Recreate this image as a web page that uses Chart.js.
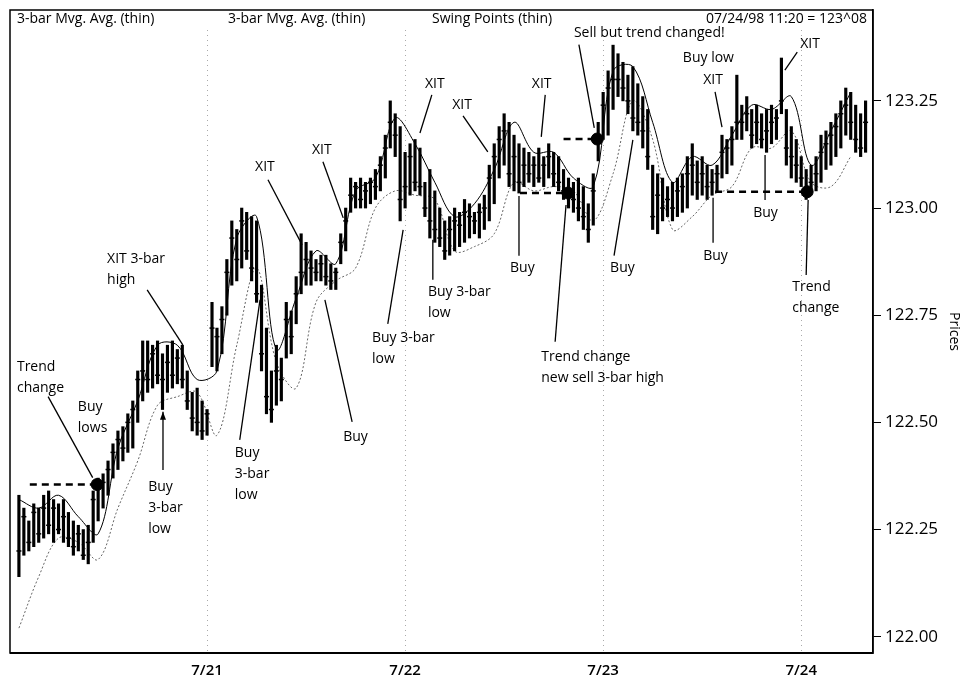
<!DOCTYPE html>
<html>
<head>
<meta charset="utf-8">
<script src="https://cdn.jsdelivr.net/npm/chart.js@4.4.1/dist/chart.umd.min.js"></script>
<style>
  html, body { margin: 0; padding: 0; background: #fff; }
</style>
</head>
<body>
<canvas id="grafico" width="972" height="686"></canvas>
<script>
// barre da 10 minuti: massimi, minimi e chiusure
var highs = [122.33,122.30,122.27,122.31,122.30,122.33,122.34,122.32,122.31,122.32,122.29,122.27,122.26,122.25,122.26,122.34,122.37,122.38,
  122.41,122.45,122.48,122.49,122.52,122.55,122.62,122.69,
  122.69,122.68,122.69,122.66,122.68,122.69,122.67,122.68,
  122.62,122.57,122.58,122.55,122.53,
  122.78,122.72,122.77,122.88,122.97,122.95,123.00,122.99,122.98,
  122.97,122.82,122.72,122.62,122.68,122.65,122.78,122.76,122.84,122.94,122.92,
  122.90,122.88,122.89,122.89,122.87,122.86,122.94,123.00,
  123.07,123.06,123.07,123.06,123.07,123.09,123.12,123.17,123.25,123.22,
  123.19,123.13,123.15,123.16,123.14,123.06,123.09,123.04,
  123.00,122.97,122.98,123.00,122.99,123.02,123.01,122.99,123.01,123.03,
  123.10,123.15,123.19,123.22,123.20,123.17,123.15,
  123.14,123.13,123.12,123.14,123.12,123.15,123.13,123.12,
  123.09,123.07,123.06,123.07,123.05,123.01,123.08,
  123.20,123.27,123.32,123.38,123.36,123.34,123.31,
  123.33,123.29,123.26,123.23,123.10,123.08,
  123.07,123.05,123.06,123.07,123.08,123.12,123.15,123.11,
  123.12,123.10,123.09,123.10,123.17,123.16,123.19,123.31,
  123.24,123.26,123.23,123.24,123.22,123.23,123.24,123.23,
  123.35,123.23,123.19,123.16,123.12,123.09,123.10,123.12,123.17,
  123.18,123.20,123.22,123.25,123.28,123.27,123.24,123.22,123.25];

var lows = [122.14,122.19,122.20,122.21,122.22,122.23,122.24,122.22,122.24,122.22,122.21,122.19,122.20,122.18,122.17,122.22,122.27,122.30,
  122.33,122.37,122.39,122.41,122.43,122.44,122.50,122.55,
  122.57,122.58,122.59,122.53,122.57,122.58,122.59,122.58,
  122.53,122.48,122.47,122.46,122.47,
  122.63,122.62,122.66,122.75,122.82,122.83,122.86,122.88,122.83,
  122.78,122.62,122.52,122.50,122.54,122.55,122.65,122.66,122.73,122.80,122.82,
  122.82,122.83,122.83,122.82,122.81,122.81,122.87,122.90,
  122.99,123.00,123.00,123.00,123.01,123.02,123.04,123.07,123.14,123.12,
  122.97,123.00,123.03,123.04,123.03,122.98,122.93,122.92,
  122.91,122.88,122.89,122.90,122.91,122.92,122.93,122.94,122.93,122.95,
  122.97,123.01,123.07,123.10,123.05,123.04,123.035,
  123.05,123.06,123.05,123.06,123.05,123.07,123.05,123.04,
  123.02,123.00,122.99,122.97,122.95,122.92,122.96,
  123.11,123.16,123.17,123.23,123.26,123.25,123.22,
  123.18,123.17,123.14,123.09,122.95,122.94,
  122.97,122.98,122.97,122.98,122.99,123.00,123.03,123.02,
  123.03,123.02,123.03,123.04,123.07,123.08,123.10,123.16,
  123.16,123.18,123.14,123.15,123.14,123.13,123.15,123.16,
  123.22,123.10,123.07,123.06,123.05,123.02,123.04,123.04,123.06,
  123.09,123.10,123.12,123.14,123.17,123.16,123.13,123.12,123.13];

var closes = [122.20,122.28,122.22,122.29,122.24,122.30,122.26,122.30,122.25,122.28,122.23,122.21,122.24,122.19,122.22,122.32,122.35,122.36,
  122.39,122.43,122.46,122.44,122.50,122.53,122.60,122.62,
  122.60,122.66,122.61,122.60,122.64,122.61,122.65,122.60,
  122.55,122.51,122.50,122.48,122.52,
  122.72,122.70,122.74,122.85,122.93,122.88,122.97,122.90,122.86,
  122.80,122.66,122.56,122.53,122.62,122.60,122.74,122.70,122.80,122.85,122.88,
  122.86,122.85,122.87,122.84,122.83,122.85,122.92,122.97,
  123.03,123.05,123.02,123.04,123.06,123.05,123.10,123.14,123.20,123.17,
  123.02,123.05,123.12,123.06,123.05,123.00,122.97,122.95,
  122.93,122.90,122.95,122.97,122.96,122.99,122.98,122.97,122.99,123.00,
  123.07,123.12,123.16,123.18,123.08,123.12,123.06,
  123.10,123.08,123.10,123.07,123.10,123.12,123.08,123.06,
  123.04,123.03,123.02,123.00,122.98,122.95,123.04,
  123.16,123.24,123.28,123.30,123.30,123.28,123.25,
  123.21,123.20,123.18,123.12,122.98,123.03,
  123.00,123.02,123.00,123.04,123.05,123.08,123.10,123.06,
  123.08,123.05,123.06,123.08,123.13,123.14,123.16,123.20,
  123.20,123.22,123.17,123.20,123.16,123.18,123.20,123.21,
  123.25,123.14,123.12,123.10,123.07,123.04,123.06,123.08,123.13,
  123.15,123.17,123.19,123.22,123.24,123.20,123.16,123.14,123.20];

// medie mobili lette ogni 4 barre
var maStep = 4;
var maHigh = [122.32,122.30,122.33,122.28,122.24,122.44,122.55,122.68,122.68,122.60,122.62,122.93,122.98,122.67,122.79,122.90,122.87,
  123.04,123.07,123.21,123.15,123.06,122.98,123.01,123.09,123.20,123.13,123.13,123.07,123.05,123.32,123.33,123.20,123.06,
  123.12,123.10,123.17,123.24,123.23,123.26,123.10,123.18,123.27];
var maLow = [122.02,122.14,122.23,122.22,122.18,122.30,122.41,122.54,122.56,122.57,122.47,122.68,122.86,122.64,122.58,122.78,122.83,
  122.86,123.00,123.04,123.03,123.02,122.90,122.91,122.94,123.06,123.04,123.05,123.04,122.97,123.08,123.25,123.16,122.95,
  122.98,123.03,123.05,123.14,123.14,123.18,123.06,123.05,123.12];

// livelli dei punti di swing
var swingFrom = [2.2, 101.2, 110, 140.6];
var swingTo = [15.8, 110.9, 116.8, 159.2];
var swingPrice = [122.355, 123.035, 123.161, 123.038];

var dayTicks = [38, 78, 118, 158];
var dayLabels = ['7/21', '7/22', '7/23', '7/24'];
var priceTicks = [122.00, 122.25, 122.50, 122.75, 123.00, 123.25];

var headerTexts = ['3-bar Mvg. Avg. (thin)', '3-bar Mvg. Avg. (thin)', 'Swing Points (thin)'];
var headerRight = '07/24/98 11:20 = 123^08';

// note sul grafico (posizione in barre / prezzo)
var notes = [
  {t: ['XIT 3-bar', 'high'], at: [17.8, 122.882], from: [25.9, 122.809], to: [33.1, 122.681]},
  {t: ['Trend', 'change'], at: [-0.4, 122.630], from: [5.9, 122.560], to: [14.9, 122.371]},
  {t: ['Buy', 'lows'], at: [11.9, 122.536]},
  {t: ['Buy', '3-bar', 'low'], at: [26.1, 122.350], from: [29.1, 122.389], to: [29.1, 122.525], arrow: true},
  {t: ['Buy', '3-bar', 'low'], at: [43.6, 122.429], from: [44.6, 122.459], to: [48.7, 122.786]},
  {t: ['Buy'], at: [65.5, 122.466], from: [67.3, 122.501], to: [61.8, 122.786]},
  {t: ['XIT'], at: [47.7, 123.096], from: [50.3, 123.066], to: [57.2, 122.914]},
  {t: ['XIT'], at: [59.2, 123.136], from: [61.4, 123.108], to: [65.5, 122.977]},
  {t: ['Buy 3-bar', 'low'], at: [71.3, 122.697], from: [74.5, 122.730], to: [77.6, 122.949]},
  {t: ['XIT'], at: [82.0, 123.290], from: [83.4, 123.264], to: [81.0, 123.175]},
  {t: ['XIT'], at: [87.5, 123.241], from: [89.7, 123.215], to: [94.7, 123.131]},
  {t: ['Buy 3-bar', 'low'], at: [82.6, 122.805], from: [83.6, 122.833], to: [83.6, 122.926]},
  {t: ['Buy'], at: [99.2, 122.861], from: [101.0, 122.889], to: [101.0, 123.028]},
  {t: ['XIT'], at: [103.6, 123.290], from: [106.3, 123.264], to: [105.5, 123.166]},
  {t: ['Trend change', 'new sell 3-bar high'], at: [105.5, 122.653], from: [108.3, 122.688], to: [110.5, 123.007]},
  {t: ['Buy'], at: [119.4, 122.861], from: [120.2, 122.889], to: [124.0, 123.159]},
  {t: ['Sell but trend changed!'], at: [112.1, 123.409], from: [113.1, 123.381], to: [116.2, 123.187]},
  {t: ['Buy low'], at: [134.1, 123.350]},
  {t: ['XIT'], at: [138.2, 123.299], from: [140.6, 123.271], to: [142.0, 123.189]},
  {t: ['XIT'], at: [157.8, 123.383], from: [157.2, 123.364], to: [154.7, 123.322]},
  {t: ['Buy'], at: [138.2, 122.889], from: [140.2, 122.919], to: [140.2, 123.024]},
  {t: ['Buy'], at: [148.3, 122.989], from: [150.7, 123.019], to: [150.7, 123.124]},
  {t: ['Trend', 'change'], at: [156.2, 122.816], from: [159.0, 122.844], to: [159.4, 123.019]}
];

Chart.defaults.font.family = "'Open Sans', 'DejaVu Sans', sans-serif";
Chart.defaults.color = '#000';

var barData = [];
var closeData = [];
for (var i = 0; i < highs.length; i++) {
  barData.push({x: i, y: [lows[i], highs[i]]});
  closeData.push({x: i, y: closes[i]});
}
var maHighData = [];
var maLowData = [];
for (var k = 0; k < maHigh.length; k++) {
  maHighData.push({x: k * maStep, y: maHigh[k]});
  maLowData.push({x: k * maStep, y: maLow[k]});
}

var datasets = [
  {type: 'bar', data: barData, backgroundColor: '#000', barThickness: 2.5, order: 2},
  {type: 'scatter', data: closeData, pointStyle: 'line', radius: 2.5, borderColor: '#000', borderWidth: 1.5, order: 2},
  {type: 'line', data: maHighData, borderColor: '#000', borderWidth: 1, pointRadius: 0, tension: 0.35, order: 4},
  {type: 'line', data: maLowData, borderColor: '#666', borderWidth: 1, borderDash: [2, 2], pointRadius: 0, tension: 0.35, order: 4}
];
var dots = [];
for (var s = 0; s < swingPrice.length; s++) {
  datasets.push({
    type: 'line',
    data: [{x: swingFrom[s], y: swingPrice[s]}, {x: swingTo[s], y: swingPrice[s]}],
    borderColor: '#000', borderWidth: 2.5, borderDash: [7, 5], pointRadius: 0, order: 1
  });
  dots.push({x: swingTo[s], y: swingPrice[s]});
}
datasets.push({type: 'scatter', data: dots, pointStyle: 'circle', radius: 6, backgroundColor: '#000', borderColor: '#000', order: 0});

var notePlugin = {
  id: 'note',
  beforeDatasetsDraw: function(chart) {
    var ctx = chart.ctx, xs = chart.scales.x, ca = chart.chartArea;
    ctx.save();
    ctx.strokeStyle = '#aaa';
    ctx.lineWidth = 1;
    ctx.setLineDash([1, 4]);
    for (var d = 0; d < dayTicks.length; d++) {
      var px = Math.round(xs.getPixelForValue(dayTicks[d])) + 0.5;
      ctx.beginPath();
      ctx.moveTo(px, ca.top + 20);
      ctx.lineTo(px, ca.bottom);
      ctx.stroke();
    }
    ctx.restore();
  },
  afterDatasetsDraw: function(chart) {
    var ctx = chart.ctx, xs = chart.scales.x, ys = chart.scales.y, ca = chart.chartArea;
    ctx.save();
    ctx.fillStyle = '#000';
    ctx.strokeStyle = '#000';
    ctx.lineWidth = 1.3;
    ctx.font = "14px 'Open Sans', sans-serif";
    ctx.textBaseline = 'middle';
    ctx.textAlign = 'left';
    for (var n = 0; n < notes.length; n++) {
      var nt = notes[n];
      var x0 = xs.getPixelForValue(nt.at[0]);
      var y0 = ys.getPixelForValue(nt.at[1]);
      for (var r = 0; r < nt.t.length; r++) {
        ctx.fillText(nt.t[r], x0, y0 + r * 21);
      }
      if (nt.from) {
        var ax = xs.getPixelForValue(nt.from[0]), ay = ys.getPixelForValue(nt.from[1]);
        var bx = xs.getPixelForValue(nt.to[0]), by = ys.getPixelForValue(nt.to[1]);
        ctx.beginPath();
        ctx.moveTo(ax, ay);
        ctx.lineTo(bx, by);
        ctx.stroke();
        if (nt.arrow) {
          ctx.beginPath();
          ctx.moveTo(bx, by);
          ctx.lineTo(bx - 3, by + 8);
          ctx.lineTo(bx + 3, by + 8);
          ctx.closePath();
          ctx.fill();
        }
      }
    }
    // intestazione
    var hx = [ca.left + 7, ca.left + 218, ca.left + 422];
    for (var h = 0; h < headerTexts.length; h++) {
      ctx.fillText(headerTexts[h], hx[h], ca.top + 9);
    }
    ctx.textAlign = 'right';
    ctx.fillText(headerRight, ca.right - 6, ca.top + 9);
    ctx.restore();
  },
  afterDraw: function(chart) {
    var ctx = chart.ctx, ca = chart.chartArea;
    ctx.save();
    ctx.strokeStyle = '#000';
    ctx.lineWidth = 1.5;
    ctx.strokeRect(ca.left, ca.top, ca.right - ca.left, ca.bottom - ca.top);
    ctx.lineWidth = 2;
    ctx.beginPath();
    ctx.moveTo(ca.left, ca.bottom);
    ctx.lineTo(ca.right, ca.bottom);
    ctx.stroke();
    ctx.restore();
  }
};

var grafico = new Chart(document.getElementById('grafico'), {
  type: 'scatter',
  data: {datasets: datasets},
  plugins: [notePlugin],
  options: {
    responsive: false,
    animation: false,
    layout: {padding: {left: 10, top: 10, right: 0, bottom: 0}},
    plugins: {legend: {display: false}, tooltip: {enabled: false}},
    scales: {
      x: {
        type: 'linear', min: -1.8, max: 172.5, offset: false,
        afterBuildTicks: function(sc) { sc.ticks = dayTicks.map(function(v) { return {value: v}; }); },
        afterFit: function(sc) { sc.height = 33; sc.paddingLeft = 0; sc.paddingRight = 0; },
        ticks: {
          autoSkip: false, maxRotation: 0, padding: 9, color: '#000',
          font: {size: 15, weight: '600'},
          callback: function(v, idx) { return dayLabels[idx]; }
        },
        grid: {display: false, drawTicks: false},
        border: {display: false}
      },
      y: {
        type: 'linear', position: 'right', min: 121.962, max: 123.462,
        afterBuildTicks: function(sc) { sc.ticks = priceTicks.map(function(v) { return {value: v}; }); },
        afterFit: function(sc) { sc.width = 99; sc.paddingTop = 0; sc.paddingBottom = 0; },
        ticks: {
          padding: 4, color: '#000', font: {size: 17},
          callback: function(v) { return Number(v).toFixed(2); }
        },
        grid: {drawOnChartArea: false, color: '#000', tickLength: 8, lineWidth: 1},
        border: {color: '#000', width: 1.5},
        title: {display: true, text: 'Prices', color: '#000', font: {size: 14}, padding: {top: 10, bottom: 10}}
      }
    }
  }
});
</script>
</body>
</html>
